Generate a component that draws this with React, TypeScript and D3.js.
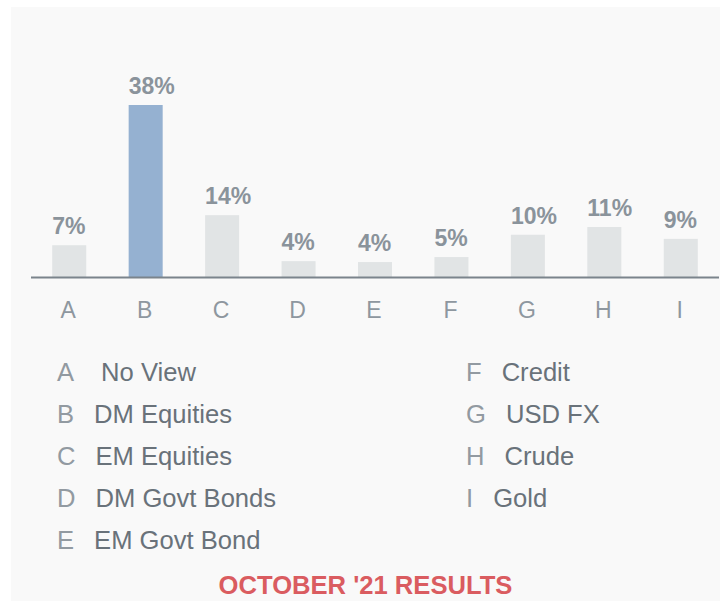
import React, { useEffect, useRef } from "react";
import * as d3 from "d3";

// Categories and shares
const categories = ["A", "B", "C", "D", "E", "F", "G", "H", "I"];
const values = [7.2, 38, 13.8, 3.7, 3.5, 4.6, 9.5, 11.2, 8.6];
const legendNames = [
  "No View",
  "DM Equities",
  "EM Equities",
  "DM Govt Bonds",
  "EM Govt Bond",
  "Credit",
  "USD FX",
  "Crude",
  "Gold",
];
const highlight = "B";
const title = "OCTOBER '21 RESULTS";

const W = 725;
const H = 601;
const FONT = "'Liberation Sans', Arial, Helvetica, sans-serif";

const App = () => {
  const svgRef = useRef<SVGSVGElement | null>(null);

  useEffect(() => {
    const svg = d3.select(svgRef.current);
    svg.selectAll("*").remove();

    // panel de fondo
    svg
      .append("rect")
      .attr("x", 11)
      .attr("y", 7)
      .attr("width", 709)
      .attr("height", H - 7)
      .attr("fill", "#f9f9f9");

    const baseY = 278;
    const x = d3
      .scaleBand<string>()
      .domain(categories)
      .range([31, 719])
      .paddingInner(0.555)
      .paddingOuter(0.2775);

    const y = d3.scaleLinear().domain([0, 38]).range([baseY, 105]);

    const data = categories.map((c, i) => ({ cat: c, value: values[i] }));

    // barras
    svg
      .append("g")
      .selectAll("rect")
      .data(data)
      .enter()
      .append("rect")
      .attr("x", (d) => x(d.cat)!)
      .attr("y", (d) => y(d.value))
      .attr("width", x.bandwidth())
      .attr("height", (d) => baseY - y(d.value))
      .attr("fill", (d) => (d.cat === highlight ? "#95b1d1" : "#e1e4e5"));

    // linea base
    svg
      .append("line")
      .attr("x1", 31)
      .attr("x2", 719)
      .attr("y1", baseY - 0.5)
      .attr("y2", baseY - 0.5)
      .attr("stroke", "#7b848c")
      .attr("stroke-width", 2);

    // etiquetas de valor (alineadas al borde izquierdo de la barra)
    svg
      .append("g")
      .selectAll("text")
      .data(data)
      .enter()
      .append("text")
      .attr("x", (d) => x(d.cat)!)
      .attr("y", (d) => y(d.value) - 11)
      .attr("font-family", FONT)
      .attr("font-weight", "bold")
      .attr("font-size", 23)
      .attr("fill", "#8a939b")
      .text((d) => `${Math.round(d.value)}%`);

    // etiquetas de categoria
    svg
      .append("g")
      .selectAll("text")
      .data(categories)
      .enter()
      .append("text")
      .attr("x", (d) => x(d)! + x.bandwidth() / 2 - 1)
      .attr("y", 318)
      .attr("text-anchor", "middle")
      .attr("font-family", FONT)
      .attr("font-size", 23)
      .attr("fill", "#8e979f")
      .text((d) => d);

    // leyenda en dos columnas
    const perCol = 5;
    const legend = svg
      .append("g")
      .selectAll("text")
      .data(categories)
      .enter()
      .append("text")
      .attr("x", (_, i) => (i < perCol ? 57 : 466))
      .attr("y", (_, i) => 381 + (i % perCol) * 42)
      .attr("font-family", FONT)
      .attr("font-size", 25.6);
    legend
      .append("tspan")
      .attr("fill", "#929aa1")
      .text((d) => d);
    legend
      .append("tspan")
      .attr("dx", (_, i) => (i === 0 ? 27 : 20))
      .attr("fill", "#69727a")
      .text((_, i) => legendNames[i]);

    // titulo
    svg
      .append("text")
      .attr("x", 365.5)
      .attr("y", 594)
      .attr("text-anchor", "middle")
      .attr("font-family", FONT)
      .attr("font-weight", "bold")
      .attr("font-size", 25.6)
      .attr("fill", "#da5c60")
      .text(title);
  }, []);

  return (
    <svg
      ref={svgRef}
      width={W}
      height={H}
      style={{ position: "absolute", left: 0, top: 0, background: "#ffffff" }}
    ></svg>
  );
};

export default App;
